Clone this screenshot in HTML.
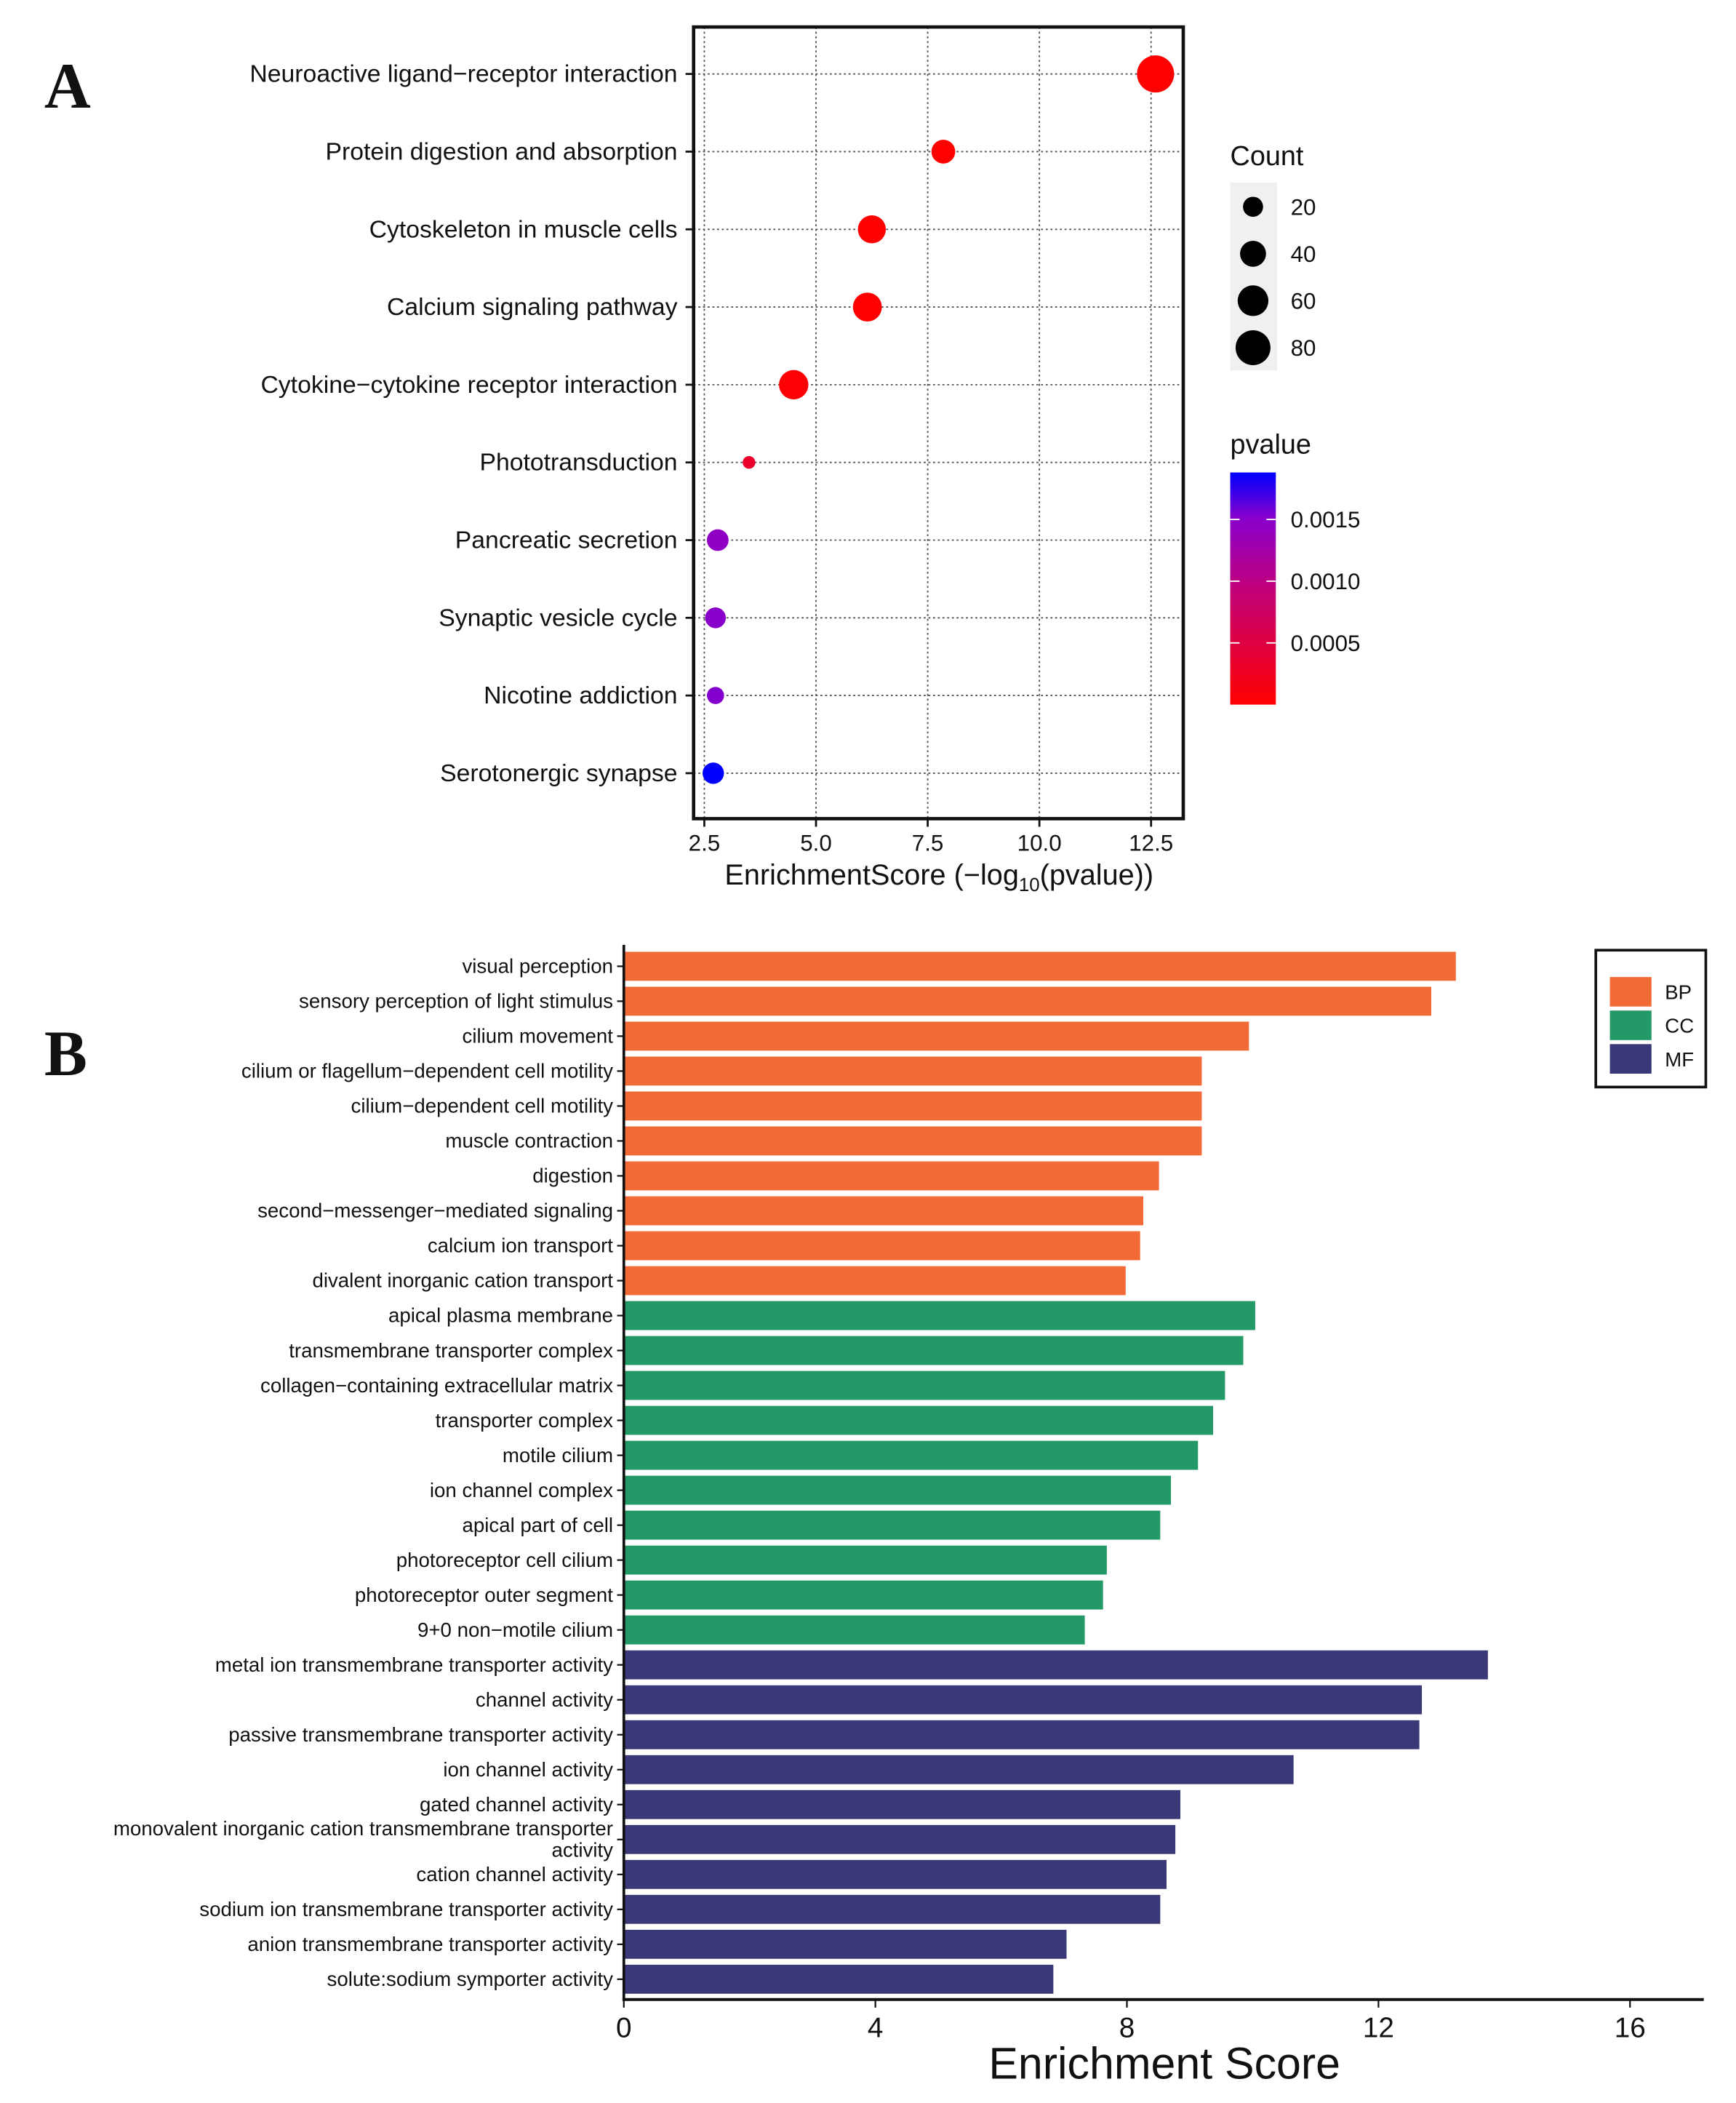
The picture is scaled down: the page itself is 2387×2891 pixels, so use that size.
<!DOCTYPE html>
<html><head><meta charset="utf-8"><style>
html,body{margin:0;padding:0;background:#fff;}
svg{display:block;}
text{font-family:"Liberation Sans",Arial,sans-serif;fill:#111;}
.narrow{font-family:"Liberation Sans Narrow","Liberation Sans",sans-serif;}
</style></head><body>
<svg id="fig" width="2387" height="2891" viewBox="0 0 1294 1567" xmlns="http://www.w3.org/2000/svg">
<rect width="1294" height="1567" fill="#fff"/>
<text x="33" y="80" style="font-family:'Liberation Serif',serif;font-weight:bold;font-size:48px">A</text>
<text x="33" y="801" style="font-family:'Liberation Serif',serif;font-weight:bold;font-size:48px">B</text>
<g id="pa"></g>
<g id="pb"></g>
</svg>
<script>
const NS="http://www.w3.org/2000/svg";
// ---- Panel A data ----
const pathways=["Neuroactive ligand\u2212receptor interaction","Protein digestion and absorption","Cytoskeleton in muscle cells","Calcium signaling pathway","Cytokine\u2212cytokine receptor interaction","Phototransduction","Pancreatic secretion","Synaptic vesicle cycle","Nicotine addiction","Serotonergic synapse"];
const scores=[12.6,7.85,6.25,6.15,4.5,3.5,2.8,2.75,2.75,2.7];
const counts=[92,32,48,52,54,2,25,22,12,24];
const pvalues=[2.5e-13,1.4e-8,5.6e-7,7.1e-7,3.2e-5,3.2e-4,1.45e-3,1.5e-3,1.52e-3,1.95e-3];
const xTicksA=[2.5,5.0,7.5,10.0,12.5];
const countLegend=[20,40,60,80];
const pTicks=[0.0015,0.0010,0.0005];
// ---- Panel B data ----
const terms=["visual perception","sensory perception of light stimulus","cilium movement","cilium or flagellum\u2212dependent cell motility","cilium\u2212dependent cell motility","muscle contraction","digestion","second\u2212messenger\u2212mediated signaling","calcium ion transport","divalent inorganic cation transport","apical plasma membrane","transmembrane transporter complex","collagen\u2212containing extracellular matrix","transporter complex","motile cilium","ion channel complex","apical part of cell","photoreceptor cell cilium","photoreceptor outer segment","9+0 non\u2212motile cilium","metal ion transmembrane transporter activity","channel activity","passive transmembrane transporter activity","ion channel activity","gated channel activity","monovalent inorganic cation transmembrane transporter|activity","cation channel activity","sodium ion transmembrane transporter activity","anion transmembrane transporter activity","solute:sodium symporter activity"];
const enrich=[13.23,12.84,9.94,9.19,9.19,9.19,8.51,8.26,8.21,7.98,10.04,9.85,9.56,9.37,9.13,8.7,8.53,7.68,7.62,7.33,13.74,12.69,12.65,10.65,8.85,8.77,8.63,8.53,7.04,6.83];
const groups=["BP","BP","BP","BP","BP","BP","BP","BP","BP","BP","CC","CC","CC","CC","CC","CC","CC","CC","CC","CC","MF","MF","MF","MF","MF","MF","MF","MF","MF","MF"];
const groupNames=["BP","CC","MF"];
const xTicksB=[0,4,8,12,16];

function el(tag,attrs,parent,txt){const e=document.createElementNS(NS,tag);for(const k in attrs)e.setAttribute(k,attrs[k]);if(txt!==undefined)e.textContent=txt;parent.appendChild(e);return e;}

// ===== Panel A =====
const pa=document.getElementById('pa');
const ax=v=>525+(v-2.5)*33.3;
const ay=i=>55+i*57.9;
const rad=c=>Math.sqrt(18.5+1.88*c);
const cstops=[[0,[255,0,0]],[0.5,[192,0,122]],[0.8,[138,0,204]],[1,[0,0,255]]];
function pcol(p){const t=Math.max(0,Math.min(1,p/0.00188));
for(let k=1;k<cstops.length;k++){if(t<=cstops[k][0]){const a=cstops[k-1],b=cstops[k];const f=(t-a[0])/(b[0]-a[0]);
const c=a[1].map((v,j)=>Math.round(v+(b[1][j]-v)*f));return `rgb(${c[0]},${c[1]},${c[2]})`;}}return 'rgb(0,0,255)';}
xTicksA.forEach(v=>{const l=el('line',{x1:ax(v),x2:ax(v),y1:20,y2:610,stroke:'#555','stroke-width':1,'stroke-dasharray':'1.5,2'},pa);
});
pathways.forEach((p,i)=>{const l=el('line',{x1:517,x2:882,y1:ay(i),y2:ay(i),stroke:'#555','stroke-width':1,'stroke-dasharray':'1.5,2'},pa);
});
pathways.forEach((p,i)=>{const c=el('circle',{cx:ax(scores[i]),cy:ay(i),r:rad(counts[i]),fill:pcol(pvalues[i])},pa);

const t=el('text',{x:505,y:ay(i)+6,'text-anchor':'end','font-size':18.3},pa,p);

const tk=el('line',{x1:511,x2:517,y1:ay(i),y2:ay(i),stroke:'#111','stroke-width':1.5},pa);
});
const fr=el('rect',{x:517,y:20,width:365,height:590,fill:'none',stroke:'#111','stroke-width':2.5},pa);

xTicksA.forEach(v=>{const tk=el('line',{x1:ax(v),x2:ax(v),y1:610,y2:616,stroke:'#111','stroke-width':1.5},pa);

const t=el('text',{x:ax(v),y:634,'text-anchor':'middle','font-size':17,fill:'#222'},pa,v.toFixed(1));
});
const xt=el('text',{x:700,y:659,'text-anchor':'middle','font-size':21.5},pa);

xt.innerHTML='EnrichmentScore (\u2212log<tspan font-size="14" dy="5">10</tspan><tspan dy="-5">(pvalue))</tspan>';
const ct=el('text',{x:917,y:123,'font-size':20.5},pa,'Count');
const cb=el('rect',{x:917,y:136,width:35,height:140,fill:'#f0f0f0'},pa);
countLegend.forEach((c,i)=>{const y=154+i*35;
const cc=el('circle',{cx:934,cy:y,r:rad(c),fill:'#000'},pa);
const t=el('text',{x:962,y:y+6,'font-size':17},pa,String(c));});
const pt=el('text',{x:917,y:338,'font-size':20.5},pa,'pvalue');
const defs=el('defs',{},pa);const lg=el('linearGradient',{id:'pg',x1:0,y1:1,x2:0,y2:0},defs);
el('stop',{offset:'0',"stop-color":'#ff0000'},lg);el('stop',{offset:'0.5',"stop-color":'#c0007a'},lg);el('stop',{offset:'0.8',"stop-color":'#8a00cc'},lg);el('stop',{offset:'1',"stop-color":'#0000ff'},lg);
const bar=el('rect',{x:917,y:352,width:34,height:173,fill:'url(#pg)'},pa);
const py=p=>525-p/0.0005*46;
pTicks.forEach(p=>{const y=py(p);
el('line',{x1:917,x2:924,y1:y,y2:y,stroke:'#fff','stroke-width':1},pa);el('line',{x1:944,x2:951,y1:y,y2:y,stroke:'#fff','stroke-width':1},pa);
const t=el('text',{x:962,y:y+6,'font-size':17},pa,p.toFixed(4));});

// ===== Panel B =====
const pb=document.getElementById('pb');
const bx=v=>465+v*46.875;
const by=i=>720+i*26.03;
const colors={BP:'#F26A35',CC:'#229966',MF:'#3A3877'};
terms.forEach((t,i)=>{const r=el('rect',{x:465,y:by(i)-10.8,width:bx(enrich[i])-465,height:21.6,fill:colors[groups[i]]},pb);

const tk=el('line',{x1:460,x2:465,y1:by(i),y2:by(i),stroke:'#111','stroke-width':1.2},pb);

const parts=t.split('|');
parts.forEach((s,j)=>{const yy=parts.length>1?by(i)-8+j*16+5:by(i)+5;
const tx=el('text',{x:457,y:yy,'text-anchor':'end','font-size':15,class:'narrow',fill:'#222'},pb,s);
});});
const yl=el('line',{x1:465,x2:465,y1:704,y2:1491,stroke:'#111','stroke-width':2},pb);
const xl=el('line',{x1:464,x2:1270,y1:1490,y2:1490,stroke:'#111','stroke-width':2.2},pb);
xTicksB.forEach(v=>{const tk=el('line',{x1:bx(v),x2:bx(v),y1:1490,y2:1496,stroke:'#111','stroke-width':1.2},pb);

const t=el('text',{x:bx(v),y:1518,'text-anchor':'middle','font-size':21,class:'narrow',fill:'#222'},pb,String(v));
});
const bt=el('text',{x:868,y:1549,'text-anchor':'middle','font-size':33,class:'narrow'},pb,'Enrichment Score');

const lb=el('rect',{x:1189.5,y:708,width:82,height:102,fill:'#fff',stroke:'#111','stroke-width':2},pb);

groupNames.forEach((g,i)=>{const y=739+i*25;
const s=el('rect',{x:1200,y:y-11,width:31,height:22,fill:colors[g]},pb);
const t=el('text',{x:1241,y:y+5.5,'font-size':15},pb,g);});
</script>
</body></html>
